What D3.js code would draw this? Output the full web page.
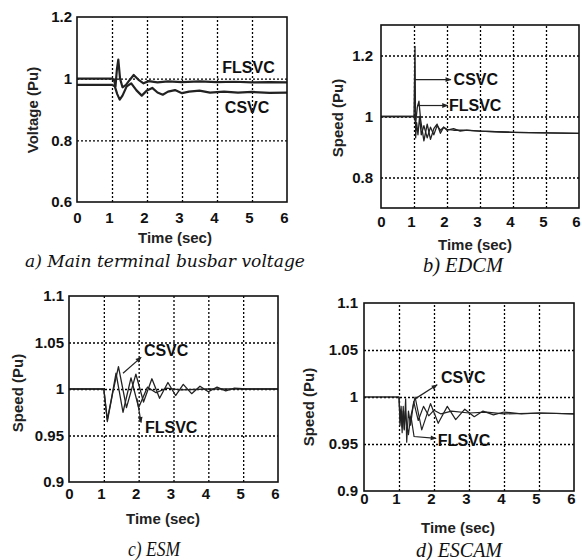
<!DOCTYPE html>
<html>
<head>
<meta charset="utf-8">
<script src="https://cdn.jsdelivr.net/npm/d3@7"></script>
<style>
body { margin: 0; background: #fff; }
text { font-family: "Liberation Sans", Arial, sans-serif; }
</style>
</head>
<body>
<svg width="582" height="560"></svg>
<script>
const timeTicks = [0, 1, 2, 3, 4, 5, 6]

// a) main terminal busbar voltage  [time, pu]
const aFLSVC = [[0,1.0],[1.0,1.0],[1.06,0.995],[1.1,0.975],[1.14,1.03],[1.18,1.062],[1.23,1.0],[1.3,0.972],[1.4,0.98],[1.5,0.995],[1.62,1.012],[1.75,0.997],[1.9,0.985],[2.05,0.992],[2.3,0.988],[2.6,0.991],[3,0.989],[3.5,0.991],[4,0.989],[4.5,0.99],[5,0.988],[5.5,0.989],[6,0.988]]
const aCSVC = [[0,0.98],[1.0,0.98],[1.08,0.975],[1.15,0.95],[1.22,0.932],[1.3,0.945],[1.42,0.975],[1.55,0.985],[1.7,0.962],[1.85,0.945],[2.0,0.962],[2.15,0.97],[2.3,0.955],[2.45,0.948],[2.6,0.958],[2.8,0.963],[3.0,0.953],[3.2,0.958],[3.5,0.961],[3.8,0.955],[4.2,0.958],[4.6,0.955],[5,0.957],[5.5,0.954],[6,0.955]]

// b) EDCM speed
const bCSVC = [[0,1],[1.0,1],[1.03,1.23],[1.05,0.93],[1.08,0.98],[1.12,0.94],[1.17,1.0],[1.22,0.94],[1.3,0.97],[1.4,0.93],[1.5,0.965],[1.6,0.94],[1.7,0.97],[1.8,0.955],[1.9,0.965],[2.0,0.955],[2.2,0.96],[2.4,0.952],[2.6,0.955],[3,0.952],[3.5,0.95],[4,0.948],[5,0.946],[6,0.945]]
const bFLSVC = [[0,1],[1.0,1],[1.05,0.98],[1.1,1.03],[1.15,1.05],[1.2,0.99],[1.3,0.92],[1.4,0.975],[1.5,0.925],[1.6,0.96],[1.7,0.975],[1.8,0.945],[1.9,0.965],[2.0,0.958],[2.2,0.955],[2.5,0.955],[3,0.952],[4,0.948],[5,0.946],[6,0.945]]

// c) ESM speed
const cCSVC = [[0,1],[1.0,1],[1.1,0.965],[1.25,0.995],[1.42,1.024],[1.65,0.98],[1.92,1.016],[2.14,0.986],[2.38,1.011],[2.6,0.99],[2.84,1.007],[3.06,0.993],[3.28,1.005],[3.52,0.995],[3.76,1.003],[4.0,0.997],[4.25,1.002],[4.5,0.998],[4.75,1.001],[5.1,1.0],[6,1.0]]
const cFLSVC = [[0,1],[1.0,1],[1.1,0.967],[1.22,0.99],[1.35,1.017],[1.55,0.975],[1.78,1.012],[2.0,0.98],[2.25,1.002],[2.5,0.996],[2.8,1.001],[3.2,0.999],[4,1.0],[6,1.0]]

// d) ESCAM speed
const dCSVC = [[0,1],[1.0,1],[1.03,0.97],[1.06,0.985],[1.09,0.962],[1.12,0.99],[1.15,0.966],[1.18,0.985],[1.22,0.972],[1.27,0.96],[1.33,0.978],[1.46,1.0],[1.65,0.965],[1.9,0.993],[2.12,0.972],[2.38,0.99],[2.62,0.976],[2.88,0.987],[3.15,0.979],[3.4,0.985],[3.7,0.981],[4,0.984],[4.5,0.982],[5,0.983],[6,0.982]]
const dFLSVC = [[0,1],[1.0,1],[1.03,0.975],[1.06,0.99],[1.09,0.968],[1.12,0.985],[1.15,0.965],[1.19,0.998],[1.22,0.952],[1.27,0.985],[1.33,0.97],[1.42,0.995],[1.55,0.975],[1.7,0.99],[1.85,0.98],[2.0,0.986],[2.2,0.982],[2.5,0.985],[3,0.983],[3.5,0.984],[4,0.982],[5,0.983],[6,0.982]]

const panels = [
  { box: [77, 17, 287, 202], yDomain: [0.6, 1.2], yTicks: [0.6, 0.8, 1, 1.2],
    series: [aFLSVC, aCSVC], lineW: 2.2, xPad: 10, yPad: 5,
    yLabel: 'Voltage (Pu)', yLabelPos: [33, 110], xLabelPos: [175, 238],
    caption: 'a) Main terminal busbar voltage', capPos: [25, 267], capW: 280, capSize: 17,
    capFont: '"DejaVu Serif", serif',
    notes: [
      { text: 'FLSVC', at: [4.9, 1.038], anchor: 'middle' },
      { text: 'CSVC', at: [4.86, 0.908], anchor: 'middle' }
    ] },
  { box: [381, 25, 579, 208], yDomain: [0.7, 1.3], yTicks: [0.8, 1, 1.2],
    series: [bCSVC, bFLSVC], lineW: 1.3, xPad: 8, yPad: 8,
    yLabel: 'Speed (Pu)', yLabelPos: [338, 118], xLabelPos: [475, 245],
    caption: 'b) EDCM', capPos: [423, 272], capW: 80, capSize: 20,
    capFont: '"Liberation Serif", serif',
    notes: [
      { text: 'CSVC', at: [2.2, 1.121], arrow: [[1.0, 1.121], [2.12, 1.121]] },
      { text: 'FLSVC', at: [2.06, 1.036], arrow: [[1.09, 1.036], [2.02, 1.036]] }
    ] },
  { box: [69, 296, 278, 482], yDomain: [0.9, 1.1], yTicks: [0.9, 0.95, 1, 1.05, 1.1],
    series: [cCSVC, cFLSVC], lineW: 1.3, xPad: 6, yPad: 5,
    yLabel: 'Speed (Pu)', yLabelPos: [18, 393], xLabelPos: [163, 519],
    caption: 'c) ESM', capPos: [128, 556], capW: 52, capSize: 20,
    capFont: '"Liberation Serif", serif',
    notes: [
      { text: 'CSVC', at: [2.15, 1.042], arrow: [[1.55, 1.017], [2.07, 1.034]] },
      { text: 'FLSVC', at: [2.18, 0.959], arrow: [[1.95, 0.99], [2.07, 0.964]] }
    ] },
  { box: [364, 303, 574, 491], yDomain: [0.9, 1.1], yTicks: [0.9, 0.95, 1, 1.05, 1.1],
    series: [dCSVC, dFLSVC], lineW: 1.2, xPad: 2, yPad: 6,
    yLabel: 'Speed (Pu)', yLabelPos: [309, 407], xLabelPos: [458, 528],
    caption: 'd) ESCAM', capPos: [416, 557], capW: 86, capSize: 20,
    capFont: '"Liberation Serif", serif',
    notes: [
      { text: 'CSVC', at: [2.2, 1.021], arrow: [[1.46, 0.998], [2.09, 1.013]] },
      { text: 'FLSVC', at: [2.11, 0.954], arrow: [[1.34, 0.98], [1.43, 0.958], [2.06, 0.956]] }
    ] }
]

const svg = d3.select('svg')

svg.append('defs').append('marker')
    .attr('id', 'head')
    .attr('viewBox', '0 0 10 10')
    .attr('refX', 9).attr('refY', 5)
    .attr('markerWidth', 7).attr('markerHeight', 6)
    .attr('markerUnits', 'userSpaceOnUse')
    .attr('orient', 'auto')
  .append('path')
    .attr('d', 'M0,1 L10,5 L0,9 Z')
    .attr('fill', '#222')

panels.forEach(p => {
    const [x0, y0, x1, y1] = p.box
    const x = d3.scaleLinear().domain([0, 6]).range([x0, x1])
    const y = d3.scaleLinear().domain(p.yDomain).range([y1, y0])
    const g = svg.append('g')

    // dotted grid
    const grid = g.append('g').attr('class', 'grid')
    grid.append('g')
        .attr('transform', `translate(0,${y1})`)
        .call(d3.axisBottom(x).tickValues(timeTicks.slice(1, -1)).tickSize(-(y1 - y0)).tickFormat(''))
        .call(a => a.select('.domain').remove())
    grid.append('g')
        .attr('transform', `translate(${x0},0)`)
        .call(d3.axisLeft(y).tickValues(p.yTicks.filter(v => v > p.yDomain[0] && v < p.yDomain[1])).tickSize(-(x1 - x0)).tickFormat(''))
        .call(a => a.select('.domain').remove())
    grid.selectAll('.tick line')
        .attr('stroke', '#000')
        .attr('stroke-width', 1.3)
        .attr('stroke-dasharray', '2,2')

    // tick labels
    g.append('g')
        .attr('transform', `translate(0,${y1})`)
        .call(d3.axisBottom(x).tickValues(timeTicks).tickSize(0).tickPadding(p.xPad).tickFormat(d => d))
        .call(a => a.select('.domain').remove())
        .selectAll('text')
            .attr('dx', d => d === 0 ? 0 : -3)
            .style('font-size', '15px')
            .style('font-weight', 'bold')
            .attr('fill', '#111')
    g.append('g')
        .attr('transform', `translate(${x0},0)`)
        .call(d3.axisLeft(y).tickValues(p.yTicks).tickSize(0).tickPadding(p.yPad).tickFormat(d => d))
        .call(a => a.select('.domain').remove())
        .selectAll('text')
            .style('font-size', '15px')
            .style('font-weight', 'bold')
            .attr('fill', '#111')

    // curves
    const line = d3.line().x(d => x(d[0])).y(d => y(d[1]))
    g.selectAll('.curve').data(p.series)
        .enter().append('path')
            .attr('class', 'curve')
            .attr('d', line)
            .attr('fill', 'none')
            .attr('stroke', '#222')
            .attr('stroke-width', p.lineW)
            .attr('stroke-linejoin', 'round')

    // frame
    g.append('rect')
        .attr('x', x0).attr('y', y0)
        .attr('width', x1 - x0).attr('height', y1 - y0)
        .attr('fill', 'none')
        .attr('stroke', '#111')
        .attr('stroke-width', 1.6)

    // annotations
    p.notes.forEach(n => {
        if (n.arrow) {
            g.append('path')
                .attr('d', d3.line().x(d => x(d[0])).y(d => y(d[1]))(n.arrow))
                .attr('fill', 'none')
                .attr('stroke', '#222')
                .attr('stroke-width', 1.2)
                .attr('marker-end', 'url(#head)')
        }
        g.append('text')
            .attr('x', x(n.at[0]))
            .attr('y', y(n.at[1]))
            .attr('dy', '0.36em')
            .attr('text-anchor', n.anchor || 'start')
            .style('font-size', '16px')
            .style('font-weight', 'bold')
            .attr('fill', '#111')
            .text(n.text)
    })

    // axis titles
    g.append('text')
        .attr('transform', `translate(${p.yLabelPos[0]},${p.yLabelPos[1]}) rotate(-90)`)
        .attr('text-anchor', 'middle')
        .attr('dy', '0.36em')
        .style('font-size', '15px')
        .style('font-weight', 'bold')
        .attr('fill', '#222')
        .text(p.yLabel)
    g.append('text')
        .attr('x', p.xLabelPos[0]).attr('y', p.xLabelPos[1])
        .attr('text-anchor', 'middle')
        .attr('dy', '0.36em')
        .style('font-size', '15px')
        .style('font-weight', 'bold')
        .attr('fill', '#222')
        .text('Time (sec)')

    g.append('text')
        .attr('x', p.capPos[0]).attr('y', p.capPos[1])
        .attr('textLength', p.capW)
        .attr('lengthAdjust', 'spacingAndGlyphs')
        .style('font-family', p.capFont)
        .style('font-style', 'italic')
        .style('font-size', p.capSize + 'px')
        .attr('fill', '#111')
        .text(p.caption)
})
</script>
</body>
</html>
